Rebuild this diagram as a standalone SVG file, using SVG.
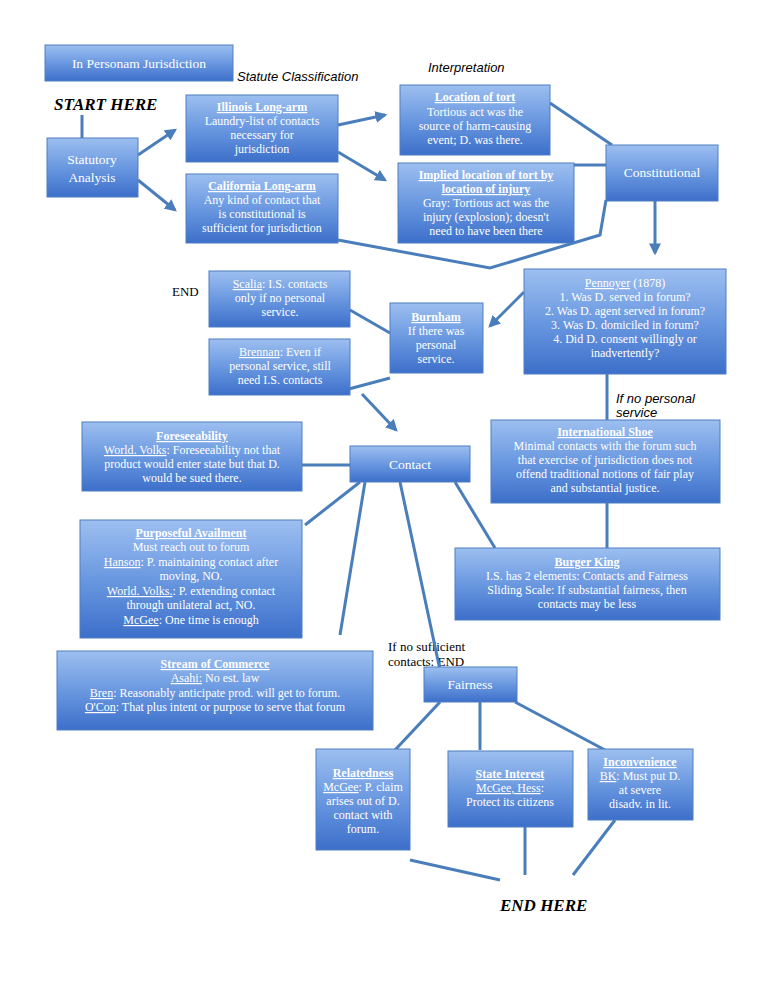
<svg xmlns="http://www.w3.org/2000/svg" width="768" height="994" viewBox="0 0 768 994">
<defs>
<linearGradient id="g" x1="0" y1="0" x2="0" y2="1"><stop offset="0" stop-color="#9dbff0"/><stop offset="0.5" stop-color="#6a98e0"/><stop offset="1" stop-color="#3c6fca"/></linearGradient>
<marker id="a" viewBox="0 0 10 10" refX="8" refY="5" markerWidth="4" markerHeight="4" orient="auto"><path d="M0,0 L10,5 L0,10 z" fill="#4a7ebb"/></marker>
<style>
rect{fill:url(#g);stroke:#4f7fc0;stroke-width:1}
.t{font-family:"Liberation Serif",serif;font-size:12px;fill:#fff;text-anchor:middle}
.b{font-size:13.5px}
.u{text-decoration:underline;font-weight:bold}
.l{fill:none;stroke:#4a7ebb;stroke-width:3}
.ar{marker-end:url(#a)}
.k{font-family:"Liberation Serif",serif;font-size:13px;fill:#000}
.i{font-family:"Liberation Sans",sans-serif;font-style:italic;font-size:13px;fill:#000}
.h{font-family:"Liberation Serif",serif;font-style:italic;font-weight:bold;font-size:17px;fill:#000}
</style>
</defs>
<rect width="768" height="994" style="fill:#fff;stroke:none"/>
<text class="i" x="237" y="81">Statute Classification</text>
<text class="i" x="428" y="72">Interpretation</text>
<text class="h" x="54" y="110">START HERE</text>
<text class="k" x="172" y="296">END</text>
<text class="i" x="616" y="403">If no personal</text>
<text class="i" x="616" y="417">service</text>
<text class="k" x="388" y="651">If no sufficient</text>
<text class="k" x="388" y="666">contacts: END</text>
<text class="h" x="500" y="911">END HERE</text>
<g id="connectors">
<path class="l" d="M82,115 V138"/>
<path class="l ar" d="M138,155 L175,130"/>
<path class="l ar" d="M138,180 L175,210"/>
<path class="l ar" d="M338,125 L385,115"/>
<path class="l ar" d="M338,152 L385,180"/>
<path class="l" d="M550,103 L612,145"/>
<path class="l" d="M574,165 L606,165"/>
<path class="l ar" d="M655,201 V253"/>
<path class="l" d="M606,200 L600,235 L490,268 L338,240"/>
<path class="l ar" d="M524,292 L490,326"/>
<path class="l" d="M350,310 L390,333"/>
<path class="l" d="M390,378 L345,390"/>
<path class="l ar" d="M362,394 L396,430"/>
<path class="l" d="M607,374 V420"/>
<path class="l" d="M607,503 V548"/>
<path class="l" d="M302,465 H350"/>
<path class="l" d="M360,482 L305,525"/>
<path class="l" d="M365,482 L340,635"/>
<path class="l" d="M400,482 L440,670"/>
<path class="l" d="M455,482 L495,548"/>
<path class="l" d="M440,702 L395,750"/>
<path class="l" d="M480,702 V750"/>
<path class="l" d="M515,702 L605,750"/>
<path class="l" d="M410,860 L500,880"/>
<path class="l" d="M525,827 V875"/>
<path class="l" d="M615,820 L573,875"/>
</g>
<g id="title"><rect x="45" y="45" width="188" height="36"/><text class="t b" x="139" y="68">In Personam Jurisdiction</text></g>
<g id="statutory"><rect x="47" y="138" width="91" height="59"/><text class="t b" x="92" y="164">Statutory</text><text class="t b" x="92" y="182">Analysis</text></g>
<g id="illinois"><rect x="186" y="95" width="152" height="67"/><text class="t" x="262" y="111"><tspan class="u">Illinois Long-arm</tspan></text><text class="t" x="262" y="125">Laundry-list of contacts</text><text class="t" x="262" y="139">necessary for</text><text class="t" x="262" y="153">jurisdiction</text></g>
<g id="california"><rect x="186" y="174" width="152" height="69"/><text class="t" x="262" y="190"><tspan class="u">California Long-arm</tspan></text><text class="t" x="262" y="204">Any kind of contact that</text><text class="t" x="262" y="218">is constitutional is</text><text class="t" x="262" y="232">sufficient for jurisdiction</text></g>
<g id="location"><rect x="400" y="85" width="150" height="70"/><text class="t" x="475" y="101"><tspan class="u">Location of tort</tspan></text><text class="t" x="475" y="116">Tortious act was the</text><text class="t" x="475" y="130">source of harm-causing</text><text class="t" x="475" y="144">event; D. was there.</text></g>
<g id="implied"><rect x="398" y="163" width="176" height="80"/><text class="t" x="486" y="179"><tspan class="u">Implied location of tort by</tspan></text><text class="t" x="486" y="193"><tspan class="u">location of injury</tspan></text><text class="t" x="486" y="207">Gray: Tortious act was the</text><text class="t" x="486" y="221">injury (explosion); doesn't</text><text class="t" x="486" y="235">need to have been there</text></g>
<g id="constitutional"><rect x="606" y="145" width="112" height="56"/><text class="t b" x="662" y="177">Constitutional</text></g>
<g id="scalia"><rect x="209" y="271" width="141" height="56"/><text class="t" x="280" y="288"><tspan style="text-decoration:underline">Scalia</tspan>: I.S. contacts</text><text class="t" x="280" y="302">only if no personal</text><text class="t" x="280" y="316">service.</text></g>
<g id="brennan"><rect x="209" y="339" width="141" height="56"/><text class="t" x="280" y="356"><tspan style="text-decoration:underline">Brennan</tspan>: Even if</text><text class="t" x="280" y="370">personal service, still</text><text class="t" x="280" y="384">need I.S. contacts</text></g>
<g id="burnham"><rect x="390" y="303" width="93" height="70"/><text class="t" x="436" y="321"><tspan class="u">Burnham</tspan></text><text class="t" x="436" y="335">If there was</text><text class="t" x="436" y="349">personal</text><text class="t" x="436" y="363">service.</text></g>
<g id="pennoyer"><rect x="524" y="269" width="202" height="105"/><text class="t" x="625" y="287"><tspan style="text-decoration:underline">Pennoyer</tspan> (1878)</text><text class="t" x="625" y="301">1. Was D. served in forum?</text><text class="t" x="625" y="315">2. Was D. agent served in forum?</text><text class="t" x="625" y="329">3. Was D. domiciled in forum?</text><text class="t" x="625" y="343">4. Did D. consent willingly or</text><text class="t" x="625" y="357">inadvertently?</text></g>
<g id="intlshoe"><rect x="491" y="420" width="229" height="83"/><text class="t" x="605" y="436"><tspan class="u">International Shoe</tspan></text><text class="t" x="605" y="450">Minimal contacts with the forum such</text><text class="t" x="605" y="464">that exercise of jurisdiction does not</text><text class="t" x="605" y="478">offend traditional notions of fair play</text><text class="t" x="605" y="492">and substantial justice.</text></g>
<g id="burgerking"><rect x="455" y="548" width="265" height="72"/><text class="t" x="587" y="566"><tspan class="u">Burger King</tspan></text><text class="t" x="587" y="580">I.S. has 2 elements: Contacts and Fairness</text><text class="t" x="587" y="594">Sliding Scale: If substantial fairness, then</text><text class="t" x="587" y="608">contacts may be less</text></g>
<g id="foreseeability"><rect x="82" y="422" width="220" height="69"/><text class="t" x="192" y="440"><tspan class="u">Foreseeability</tspan></text><text class="t" x="192" y="454"><tspan style="text-decoration:underline">World. Volks</tspan>: Foreseeability not that</text><text class="t" x="192" y="468">product would enter state but that D.</text><text class="t" x="192" y="482">would be sued there.</text></g>
<g id="contact"><rect x="350" y="446" width="120" height="36"/><text class="t b" x="410" y="469">Contact</text></g>
<g id="purposeful"><rect x="80" y="520" width="222" height="118"/><text class="t" x="191" y="537"><tspan class="u">Purposeful Availment</tspan></text><text class="t" x="191" y="551">Must reach out to forum</text><text class="t" x="191" y="566"><tspan style="text-decoration:underline">Hanson</tspan>: P. maintaining contact after</text><text class="t" x="191" y="580">moving, NO.</text><text class="t" x="191" y="595"><tspan style="text-decoration:underline">World. Volks.</tspan>: P. extending contact</text><text class="t" x="191" y="609">through unilateral act, NO.</text><text class="t" x="191" y="624"><tspan style="text-decoration:underline">McGee</tspan>: One time is enough</text></g>
<g id="stream"><rect x="57" y="651" width="316" height="79"/><text class="t" x="215" y="668"><tspan class="u">Stream of Commerce</tspan></text><text class="t" x="215" y="682"><tspan style="text-decoration:underline">Asahi:</tspan> No est. law</text><text class="t" x="215" y="697"><tspan style="text-decoration:underline">Bren</tspan>: Reasonably anticipate prod. will get to forum.</text><text class="t" x="215" y="711"><tspan style="text-decoration:underline">O'Con</tspan>: That plus intent or purpose to serve that forum</text></g>
<g id="fairness"><rect x="424" y="667" width="93" height="35"/><text class="t b" x="470" y="689">Fairness</text></g>
<g id="relatedness"><rect x="316" y="749" width="94" height="101"/><text class="t" x="363" y="777"><tspan class="u">Relatedness</tspan></text><text class="t" x="363" y="791"><tspan style="text-decoration:underline">McGee</tspan>: P. claim</text><text class="t" x="363" y="805">arises out of D.</text><text class="t" x="363" y="819">contact with</text><text class="t" x="363" y="833">forum.</text></g>
<g id="stateinterest"><rect x="448" y="751" width="125" height="76"/><text class="t" x="510" y="778"><tspan class="u">State Interest</tspan></text><text class="t" x="510" y="792"><tspan style="text-decoration:underline">McGee, Hess</tspan>:</text><text class="t" x="510" y="806">Protect its citizens</text></g>
<g id="inconvenience"><rect x="588" y="749" width="105" height="71"/><text class="t" x="640" y="766"><tspan class="u">Inconvenience</tspan></text><text class="t" x="640" y="780"><tspan style="text-decoration:underline">BK</tspan>: Must put D.</text><text class="t" x="640" y="794">at severe</text><text class="t" x="640" y="808">disadv. in lit.</text></g>
</svg>
